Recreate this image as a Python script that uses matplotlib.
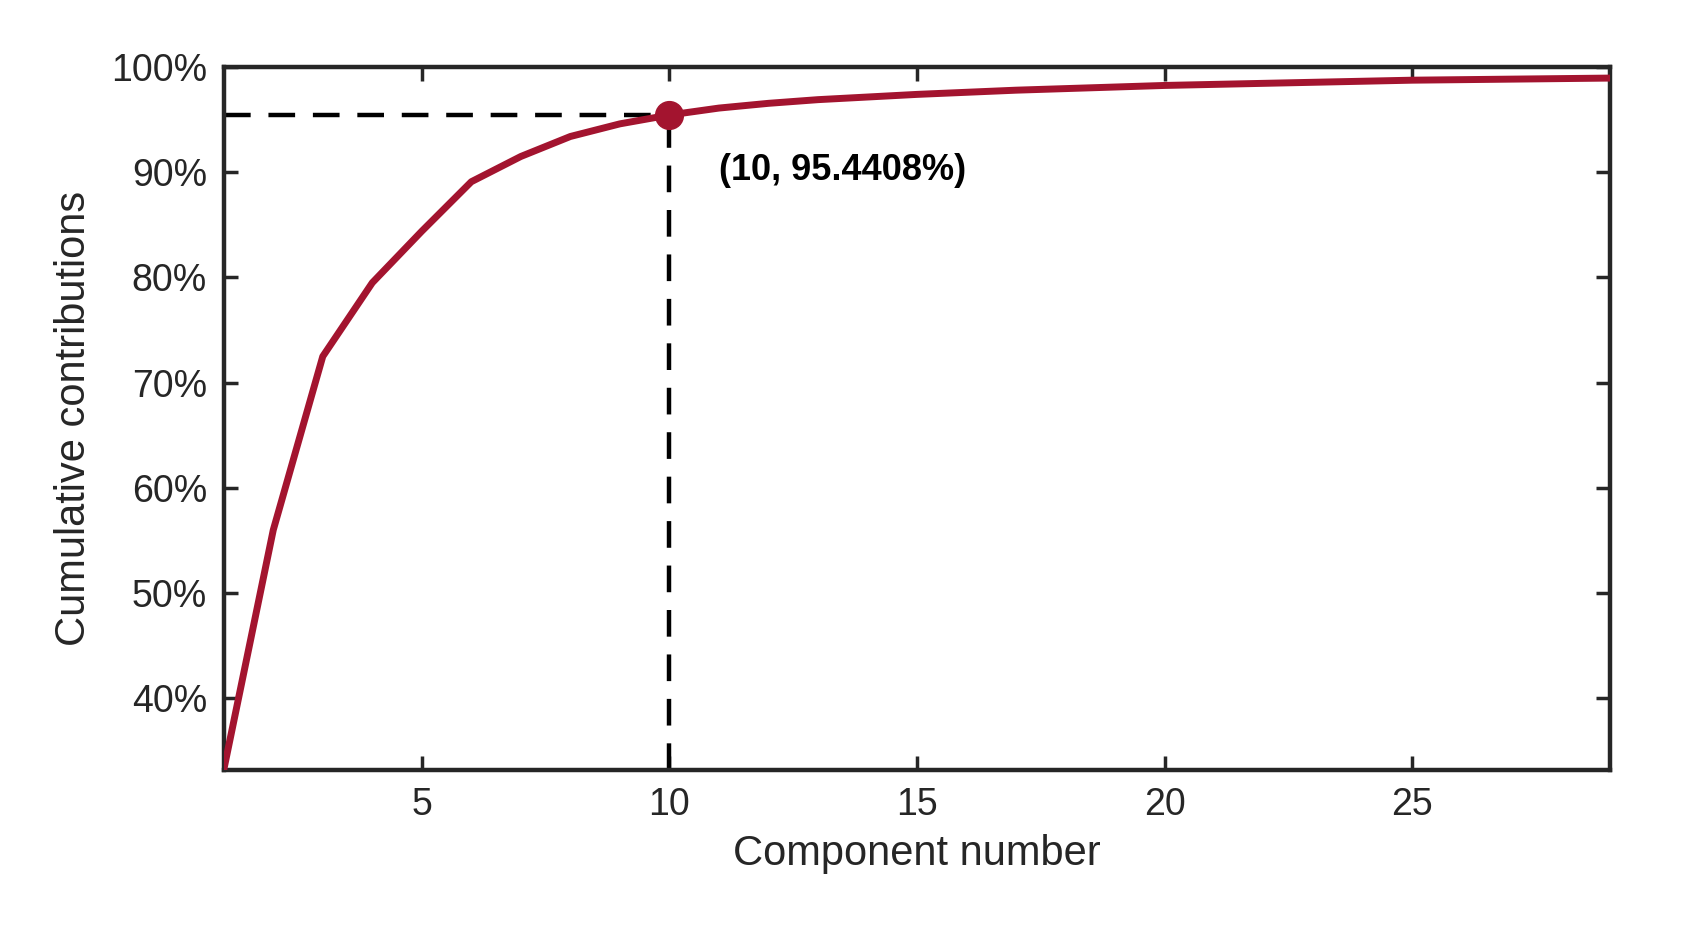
import matplotlib
matplotlib.use("Agg")
from matplotlib import pyplot as plt
from matplotlib.ticker import FuncFormatter

plt.rcParams['font.family'] = ['Liberation Sans', 'DejaVu Sans']

# cumulative contribution per component (%)
components = list(range(1, 30))
cumulative = [33.2, 56.0, 72.5, 79.5, 84.4, 89.1, 91.5, 93.4, 94.6, 95.4408,
              96.1, 96.55, 96.9, 97.15, 97.4, 97.6, 97.8, 97.95, 98.1, 98.25,
              98.35, 98.45, 98.55, 98.65, 98.75, 98.8, 98.85, 98.9, 98.95]
mark_x = 10
mark_y = 95.4408

red = '#A3142F'
dark = '#262626'

fig = plt.figure(figsize=(16.95, 9.31), dpi=100)
ax = fig.add_axes([0.132, 0.173, 0.818, 0.755])

ax.plot(components, cumulative, color=red, lw=5, zorder=3)
ax.plot([1, mark_x], [mark_y, mark_y], 'k--', lw=3.2, dashes=(6, 4), zorder=2)
ax.plot([mark_x, mark_x], [33.2, mark_y], 'k--', lw=3.2, dashes=(6, 4), zorder=2)
ax.plot(mark_x, mark_y, 'o', color=red, ms=20, zorder=4)
ax.text(mark_x + 1, mark_y - 5.3, f'({mark_x}, {mark_y}%)', fontsize=26,
        fontweight='bold', color='black', va='center')

ax.set_xlim(1, 29)
ax.set_ylim(33.2, 100)
ax.set_xticks([5, 10, 15, 20, 25])
ax.set_yticks([40, 50, 60, 70, 80, 90, 100])
ax.yaxis.set_major_formatter(FuncFormatter(lambda v, p: f'{v:.0f}%'))
ax.tick_params(direction='in', length=10, width=2.5, labelsize=27,
               colors=dark, top=True, right=True, pad=12)
for s in ax.spines.values():
    s.set_linewidth(3.2)
    s.set_color(dark)

ax.set_xlabel('Component number', fontsize=30, color=dark, labelpad=8)
ax.set_ylabel('Cumulative contributions', fontsize=30, color=dark, labelpad=12)

fig.savefig('out.png', dpi=100)
